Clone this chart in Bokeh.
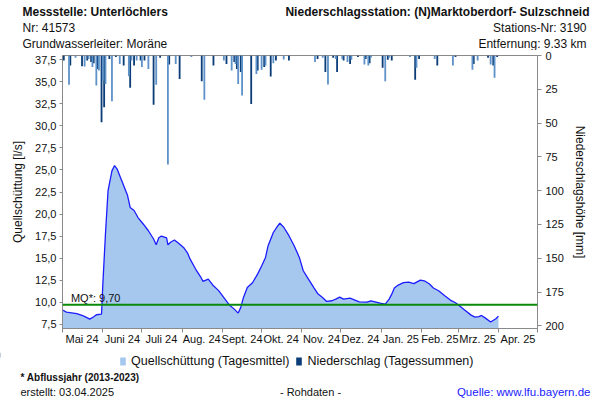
from bokeh.plotting import figure
from bokeh.layouts import column
from bokeh.models import (Range1d, LinearAxis, FixedTicker, CustomJSTickFormatter,
                          Span, Label, Legend, LegendItem)
from bokeh.embed import file_html
from bokeh.resources import INLINE

# ---------------- data ----------------
# Quellschüttung (Tagesmittel) [l/s]; day index counted from 01.05.2024
q_day = [0, 3, 11, 16, 21, 24, 26, 30, 31, 33, 35, 38, 40, 42, 44, 46, 50, 52, 55, 58,
         62, 66, 70, 72, 74, 76, 80, 81, 83, 86, 89, 93, 96, 98, 101, 103, 106, 108, 112, 116,
         120, 124, 128, 132, 135, 137, 139, 142, 146, 150, 153, 156, 158, 162, 165, 167, 170, 174, 178, 182,
         185, 189, 193, 196, 200, 203, 207, 210, 213, 216, 221, 228, 234, 237, 244, 248, 251, 253, 255, 258,
         262, 266, 270, 275, 278, 282, 285, 289, 294, 298, 302, 305, 309, 314, 317, 320, 322, 325, 329, 333, 335]
q_val = [9.10, 8.86, 8.70, 8.44, 8.07, 8.33, 8.56, 8.64, 12.05, 17.7, 22.65, 24.9, 25.5, 25.1, 24.35, 23.6,
         22.1, 20.75, 20.4, 19.6, 18.87, 18.1, 17.16, 16.5, 17.3, 17.5, 17.3, 16.5, 16.8, 17.05, 16.7, 16.2,
         15.6, 14.9, 14.1, 13.56, 12.9, 12.35, 12.6, 11.85, 11.3, 10.5, 9.7, 9.2, 8.75, 9.4, 10.5, 11.66,
         12.2, 13.2, 14.1, 15.07, 16.4, 17.9, 18.56, 18.97, 18.5, 17.54, 16.4, 15.07, 13.56, 12.6, 11.66, 10.98,
         10.5, 10.07, 10.15, 10.34, 10.57, 10.34, 10.45, 10.03, 10.0, 10.15, 9.89, 9.77, 10.34, 10.9, 11.6, 11.93,
         12.2, 12.27, 12.1, 12.5, 12.42, 12.05, 11.6, 11.29, 10.7, 10.23, 9.92, 9.58, 9.09, 8.52, 8.3, 8.36,
         8.48, 8.18, 7.73, 8.1, 8.41]

# Niederschlag (Tagessummen) [mm]
p_day = [1, 5, 6, 10, 15, 17, 19, 20, 22, 23, 24, 26, 27, 28, 30, 31, 32, 33, 36, 38,
         41, 44, 47, 51, 52, 53, 55, 57, 60, 61, 63, 66, 70, 72, 75, 81, 82, 87, 90, 99,
         107, 109, 116, 124, 126, 130, 132, 133, 134, 135, 137, 138, 145, 149, 150, 153, 155, 156, 160, 162,
         164, 170, 174, 194, 196, 200, 202, 204, 208, 210, 211, 215, 216, 219, 221, 222, 227, 232, 233, 235,
         236, 237, 246, 248, 250, 251, 253, 267, 271, 272, 274, 286, 288, 300, 302, 315, 316, 319, 327, 329,
         331, 332, 334]
p_mm = [3.7, 21.7, 7.4, 1.7, 7.9, 8.1, 3.7, 2.5, 4.9, 8.6, 5.7, 22.2, 9.9, 11.1, 49.4, 18.5, 38.3, 21.0, 2.5, 33.8,
        1.2, 6.2, 7.4, 15.3, 23.9, 3.7, 7.4, 3.7, 3.7, 8.6, 3.7, 9.9, 36.5, 21.7, 1.7, 80.7, 6.7, 6.2, 17.3, 1.2,
        19.0, 32.8, 7.4, 3.7, 6.2, 11.1, 4.9, 6.2, 9.9, 21.0, 12.3, 29.6, 35.8, 13.6, 11.1, 10.6, 8.6, 7.4, 15.6, 5.7,
        3.7, 3.0, 3.7, 4.9, 2.5, 1.7, 12.3, 21.5, 1.7, 2.5, 12.3, 2.5, 3.7, 4.9, 6.2, 3.2, 1.2, 6.7, 2.5, 7.4,
        5.7, 1.7, 9.1, 19.0, 3.2, 1.7, 3.7, 1.2, 18.0, 9.1, 2.5, 2.5, 7.4, 7.4, 1.2, 10.6, 6.2, 3.7, 1.7, 6.7,
        7.4, 16.5, 1.2]

month_start_day = [0, 31, 61, 92, 123, 153, 184, 214, 245, 276, 304, 335, 365]
month_labels = ["Mai 24", "Juni 24", "Juli 24", "Aug. 24", "Sept. 24", "Okt. 24",
                "Nov. 24", "Dez. 24", "Jan. 25", "Feb. 25", "Mrz. 25", "Apr. 25"]
q_ticks = [7.5, 10.0, 12.5, 15.0, 17.5, 20.0, 22.5, 25.0, 27.5, 30.0, 32.5, 35.0, 37.5]
p_ticks = [0, 25, 50, 75, 100, 125, 150, 175, 200]
mq_value = 9.70

# ---------------- styling ----------------
FONT = "Liberation Sans"
TXT = "#111111"
AXIS_COL = "#8a8a8a"
AREA_COL = "#a6c8ef"
DARK_BAR = "#0b3d78"
LIGHT_BAR = "#5e92c8"
Q_LO, Q_HI = 7.0, 38.0
P_TOP, P_BOTTOM = 0, 202
W = 600
HEAD_H = 50
MAIN_H = 302
FOOT_H = 400 - HEAD_H - MAIN_H


def blank_fig(height, y_top):
    """A figure whose frame fills it; data units = page pixels."""
    f = figure(width=W, height=height, output_backend="svg", toolbar_location=None,
               x_range=Range1d(0, W), y_range=Range1d(y_top + height, y_top),
               x_axis_location=None, y_axis_location=None, frame_align=False,
               min_border_left=0, min_border_right=0, min_border_top=0, min_border_bottom=0)
    f.grid.visible = False
    f.outline_line_color = None
    f.background_fill_color = "white"
    f.border_fill_color = "white"
    return f


def text(f, s, px, py, align="left", size="12px", style="normal", color=TXT):
    f.add_layout(Label(x=px, y=py, text=s, text_align=align, text_baseline="middle",
                       text_font=FONT, text_font_size=size, text_font_style=style,
                       text_color=color))


# ---------------- header ----------------
head = blank_fig(HEAD_H, 0)
text(head, "Messstelle: Unterlöchlers", 22, 11, style="bold")
text(head, "Nr: 41573", 22, 27)
text(head, "Grundwasserleiter:   Moräne", 22, 43)
text(head, "Niederschlagsstation: (N)Marktoberdorf- Sulzschneid", 589, 11, align="right", style="bold")
text(head, "Stations-Nr: 3190", 586, 27, align="right")
text(head, "Entfernung: 9.33 km", 586, 43, align="right")

# ---------------- main chart ----------------
p = figure(width=W, height=MAIN_H, output_backend="svg", toolbar_location=None,
           x_range=Range1d(month_start_day[0], month_start_day[-1]),
           y_range=Range1d(Q_LO, Q_HI),
           x_axis_location=None, y_axis_location=None, frame_align=False,
           min_border_left=62, min_border_right=63, min_border_top=5, min_border_bottom=24)
p.grid.visible = False
p.outline_line_color = AXIS_COL
p.background_fill_color = "white"
p.border_fill_color = "white"
p.extra_y_ranges = {"precip": Range1d(P_BOTTOM, P_TOP)}


def style_axis(ax):
    ax.axis_line_color = AXIS_COL
    ax.major_tick_line_color = AXIS_COL
    ax.minor_tick_line_color = AXIS_COL
    ax.major_label_text_font = FONT
    ax.major_label_text_font_size = "11px"
    ax.major_label_text_color = TXT
    ax.axis_label_text_font = FONT
    ax.axis_label_text_font_size = "12px"
    ax.axis_label_text_font_style = "normal"
    ax.axis_label_text_color = TXT


mid_days = [(a + b) // 2 for a, b in zip(month_start_day[:-1], month_start_day[1:])]
xaxis = LinearAxis(ticker=FixedTicker(ticks=mid_days, minor_ticks=month_start_day),
                   major_label_overrides={d: l for d, l in zip(mid_days, month_labels)},
                   major_tick_in=0, major_tick_out=0, minor_tick_in=0, minor_tick_out=4,
                   major_label_standoff=0)
style_axis(xaxis)
p.add_layout(xaxis, "below")

yaxis = LinearAxis(ticker=FixedTicker(ticks=q_ticks),
                   formatter=CustomJSTickFormatter(code="return tick.toFixed(1).replace('.', ',')"),
                   axis_label="Quellschüttung [l/s]",
                   major_tick_in=0, major_tick_out=3, minor_tick_out=0, minor_tick_in=0,
                   major_label_standoff=3, axis_label_standoff=7)
style_axis(yaxis)
p.add_layout(yaxis, "left")

raxis = LinearAxis(y_range_name="precip", ticker=FixedTicker(ticks=p_ticks),
                   axis_label="Niederschlagshöhe [mm]",
                   major_tick_in=0, major_tick_out=4, minor_tick_out=0, minor_tick_in=0,
                   major_label_standoff=4, axis_label_standoff=6)
style_axis(raxis)
p.add_layout(raxis, "right")

p.varea(x=q_day, y1=Q_LO, y2=q_val, fill_color=AREA_COL)
p.line(q_day, q_val, line_color="#1c1cff", line_width=1.3)

p.add_layout(Span(location=mq_value, dimension="width", line_color="#0a8a0a", line_width=2))
p.add_layout(Label(x=6.5, y=mq_value, text="MQ*: " + f"{mq_value:.2f}".replace(".", ","),
                   y_offset=1, text_baseline="bottom", text_font=FONT, text_font_size="11px",
                   text_color=TXT))

dark_i = [i for i in range(len(p_day)) if i % 2 == 0]
light_i = [i for i in range(len(p_day)) if i % 2 == 1]
p.vbar(x=[p_day[i] for i in dark_i], top=P_TOP, bottom=[p_mm[i] for i in dark_i],
       width=1.4, y_range_name="precip", fill_color=DARK_BAR, line_color=None)
p.vbar(x=[p_day[i] for i in light_i], top=P_TOP, bottom=[p_mm[i] for i in light_i],
       width=1.4, y_range_name="precip", fill_color=LIGHT_BAR, line_color=None)

# ---------------- footer with legend ----------------
FOOT_TOP = HEAD_H + MAIN_H
foot = blank_fig(FOOT_H, FOOT_TOP)
# legend proxies, placed outside the visible range (only their legend swatches show)
lg_area = foot.varea(x=[-20, -10], y1=[FOOT_TOP, FOOT_TOP], y2=[FOOT_TOP + 5, FOOT_TOP + 5],
                     fill_color=AREA_COL)
lg_bar = foot.vbar(x=[-20], top=[FOOT_TOP], bottom=[FOOT_TOP + 5], width=1,
                   fill_color=DARK_BAR, line_color=None)
legend = Legend(items=[LegendItem(label="Quellschüttung (Tagesmittel)", renderers=[lg_area]),
                       LegendItem(label="Niederschlag (Tagessummen)", renderers=[lg_bar])],
                orientation="horizontal", location=(119, 400 - 368),
                border_line_color=None, background_fill_alpha=0,
                label_text_font=FONT, label_text_font_size="12.5px", label_text_color=TXT,
                glyph_width=7, glyph_height=10, label_standoff=5, spacing=6,
                padding=2, margin=0)
foot.add_layout(legend, "center")

text(foot, "* Abflussjahr (2013-2023)", 20, 377, size="10px", style="bold")
text(foot, "erstellt:  03.04.2025", 20, 391, size="11px")
text(foot, "- Rohdaten -", 310, 391, align="center", size="11px")
text(foot, "Quelle: www.lfu.bayern.de", 590, 391, align="right", size="11.5px", color="#1a1aff")

layout = column(head, p, foot, spacing=0)
open("out.html", "w").write(file_html(layout, INLINE))
